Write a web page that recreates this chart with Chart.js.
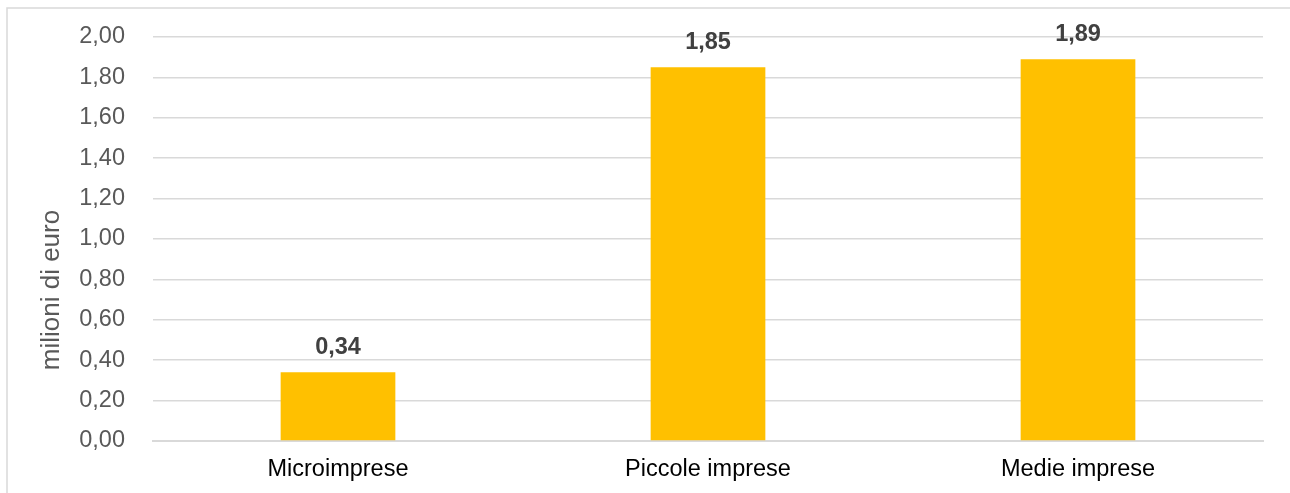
<!DOCTYPE html>
<html>
<head>
<meta charset="utf-8">
<script src="https://cdn.jsdelivr.net/npm/chart.js@4.4.1/dist/chart.umd.min.js"></script>
<style>
  html, body { margin: 0; padding: 0; background: #fff; overflow: hidden; }
  canvas { display: block; }
</style>
</head>
<body>
<canvas id="chart" width="1290" height="493"></canvas>
<script>
// categorie e valori (milioni di euro)
const categories = ["Microimprese", "Piccole imprese", "Medie imprese"];
const values = [0.34, 1.85, 1.89];
const yMin = 0;
const yMax = 2;
const yStep = 0.2;
const axisTitle = "milioni di euro";

const fmt = (v) => v.toFixed(2).replace(".", ",");

// cornice grigia dell'area del grafico
const frame = {
  id: "frame",
  beforeDraw(chart) {
    const ctx = chart.ctx;
    ctx.save();
    ctx.strokeStyle = "#d9d9d9";
    ctx.lineWidth = 1.5;
    ctx.beginPath();
    ctx.moveTo(7, chart.height);
    ctx.lineTo(7, 8);
    ctx.lineTo(chart.width, 8);
    ctx.stroke();
    ctx.restore();
  },
};

// etichette dei valori sopra le barre
const valueLabels = {
  id: "valueLabels",
  afterDatasetsDraw(chart) {
    const ctx = chart.ctx;
    const meta = chart.getDatasetMeta(0);
    ctx.save();
    ctx.font = "bold 23.5px 'Liberation Sans', Arial, sans-serif";
    ctx.fillStyle = "#404040";
    ctx.textAlign = "center";
    ctx.textBaseline = "middle";
    meta.data.forEach((bar, i) => {
      ctx.fillText(fmt(values[i]), bar.x, bar.y - 25);
    });
    ctx.restore();
  },
};

// titolo asse verticale
const yTitle = {
  id: "yTitle",
  afterDraw(chart) {
    const ctx = chart.ctx;
    ctx.save();
    ctx.translate(52, 290);
    ctx.rotate(-Math.PI / 2);
    ctx.font = "26px 'Liberation Sans', Arial, sans-serif";
    ctx.fillStyle = "#595959";
    ctx.textAlign = "center";
    ctx.textBaseline = "middle";
    ctx.fillText(axisTitle, 0, 0);
    ctx.restore();
  },
};

new Chart(document.getElementById("chart"), {
  type: "bar",
  data: {
    labels: categories,
    datasets: [
      {
        data: values,
        backgroundColor: "#ffc000",
        barPercentage: 0.31,
        categoryPercentage: 1,
      },
    ],
  },
  options: {
    responsive: false,
    animation: false,
    layout: { padding: { top: 37, right: 27, left: 0, bottom: 0 } },
    plugins: {
      legend: { display: false },
      tooltip: { enabled: false },
    },
    scales: {
      x: {
        grid: { display: false, drawTicks: false },
        border: { display: true, color: "#d9d9d9", width: 2 },
        ticks: {
          color: "#000000",
          padding: 14,
          font: { family: "'Liberation Sans', Arial, sans-serif", size: 23.5 },
        },
        afterFit(scale) {
          scale.height = 52;
        },
      },
      y: {
        min: yMin,
        max: yMax,
        border: { display: false },
        // tick marks kept invisible; their length sets the gap before the labels
        grid: {
          color: "#d9d9d9",
          lineWidth: 1.5,
          drawTicks: true,
          tickLength: 28,
          tickColor: "rgba(0,0,0,0)",
        },
        ticks: {
          stepSize: yStep,
          padding: 0,
          color: "#595959",
          font: { family: "'Liberation Sans', Arial, sans-serif", size: 23.5 },
          callback: (v) => fmt(v),
        },
        afterFit(scale) {
          scale.width = 153;
        },
      },
    },
  },
  plugins: [frame, valueLabels, yTitle],
});
</script>
</body>
</html>
